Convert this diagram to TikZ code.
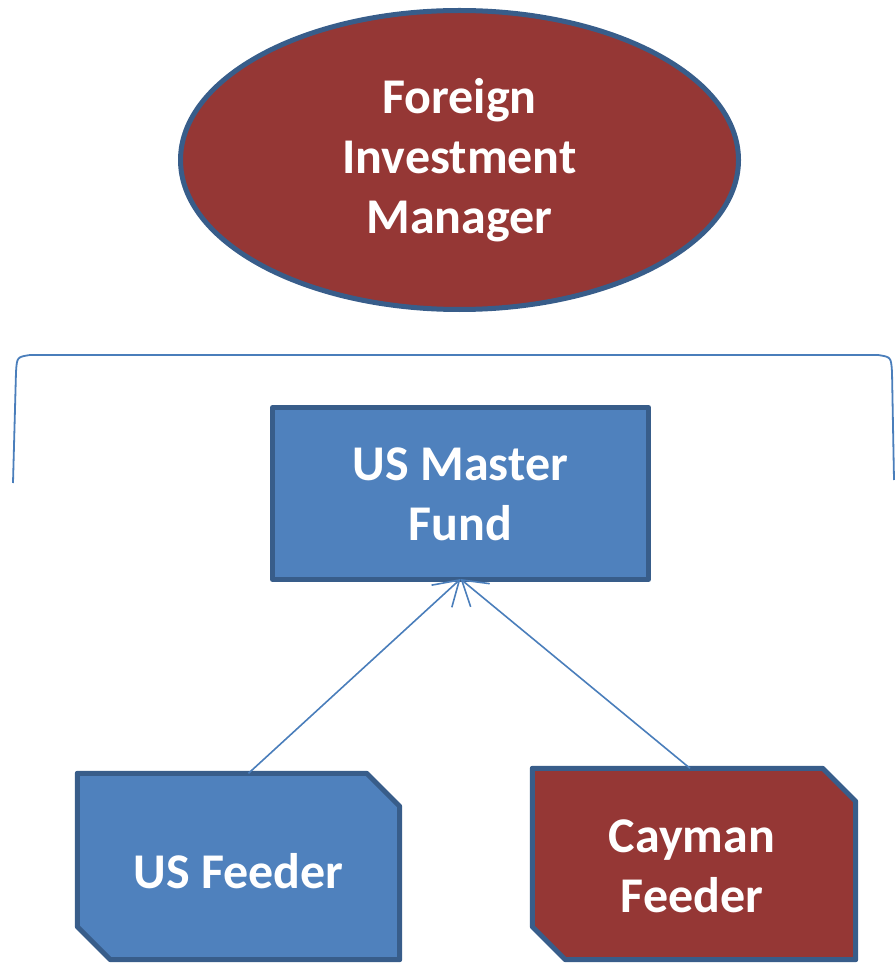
\documentclass[tikz,border=0pt]{standalone}
\usepackage{fontspec}
\setmainfont{Carlito}
\usetikzlibrary{shapes.geometric,arrows.meta}
\definecolor{boxred}{HTML}{953735}
\definecolor{boxblue}{HTML}{4F81BD}
\definecolor{edgeblue}{HTML}{385D8A}
\definecolor{linkblue}{HTML}{4A7EBB}
\tikzset{
  lbl/.style={text=white,font=\fontsize{50}{60}\selectfont\bfseries,align=center},
  shp/.style={draw=edgeblue,line width=5pt,inner sep=0pt,line join=round},
  frame/.style={rectangle,inner sep=0pt},
  link/.style={draw=linkblue,line width=1.6pt,-{Straight Barb[length=24pt,width=30pt]}},
}
\newcommand{\snipbox}[2]{%
  \draw[shp,fill=#2] (#1.north west) -- ([xshift=-33pt]#1.north east) -- ([yshift=-33pt]#1.north east)
    -- (#1.south east) -- ([xshift=33pt]#1.south west) -- ([yshift=33pt]#1.south west) -- cycle;}
\begin{document}
\begin{tikzpicture}[x=1pt,y=-1pt]
\useasboundingbox (0,0) rectangle (895,965);
\node[shp,ellipse,fill=boxred,minimum width=558pt,minimum height=299pt] (fim) at (459.5,160) {};
\node[lbl] (fimt) at (459.5,160) {Foreign\\Investment\\Manager};
\draw[draw=linkblue,line width=1.8pt] (13,483) -- (16,372) .. controls (17,357) .. (30,355) -- (878,355) .. controls (891,357) .. (892,372) -- (894,480);
\node[shp,rectangle,fill=boxblue,minimum width=376pt,minimum height=172pt] (master) at (460.5,493.5) {};
\node[lbl] (mastert) at (460.5,494) {US Master\\Fund};
\node[frame,minimum width=322pt,minimum height=186pt] (usf) at (238.5,866.5) {};
\snipbox{usf}{boxblue}
\node[lbl] (usft) at (238.5,871) {US Feeder};
\node[frame,minimum width=323pt,minimum height=191pt] (cay) at (694,864) {};
\snipbox{cay}{boxred}
\node[lbl] (cayt) at (692,866) {Cayman\\Feeder};
\draw[link] ([xshift=10pt]usf.north) -- ([yshift=3pt]master.south);
\draw[link] ([xshift=-4pt]cay.north) -- ([yshift=3pt]master.south);
\end{tikzpicture}
\end{document}
